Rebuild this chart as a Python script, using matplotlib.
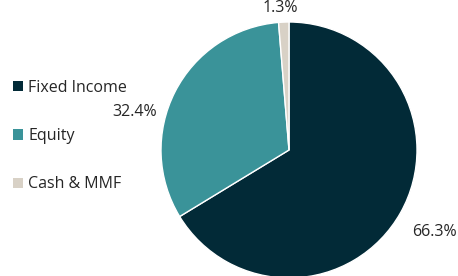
import numpy as np
import matplotlib
matplotlib.use("Agg")
import matplotlib.pyplot as plt
from matplotlib.patches import Patch

# data
categories = ["Fixed Income", "Equity", "Cash & MMF"]
shares = [66.3, 32.4, 1.3]
pctLabels = ["66.3%", "32.4%", "1.3%"]
colors = ["#022a37", "#3a9399", "#d8d1c6"]

plt.rcParams["font.family"] = ["Open Sans", "DejaVu Sans"]
textColor = "#262626"
fs = 11.5

fig = plt.figure(figsize=(4.58, 2.76), dpi=100)
ax = fig.add_axes([0, 0, 1, 1])

wedges, _ = ax.pie(shares, colors=colors, startangle=90, counterclock=False,
                   radius=1.0, wedgeprops=dict(edgecolor="white", linewidth=1.0))

# 1 data unit = 128 px, pie centre at (289, 150) px from top-left
ax.set_xlim(-289 / 128, (458 - 289) / 128)
ax.set_ylim(-126 / 128, 150 / 128)
ax.set_aspect("auto")
ax.axis("off")

# label positions: distance from centre and angle nudge per slice
labelDist = [1.30, 1.24, 1.11]
angleShift = [0, 13, 1]
for w, lab, d, s in zip(wedges, pctLabels, labelDist, angleShift):
    mid = np.deg2rad((w.theta1 + w.theta2) / 2 + s)
    ax.text(d * np.cos(mid), d * np.sin(mid), lab, ha="center", va="center",
            fontsize=fs, color=textColor)

handles = [Patch(facecolor=c, edgecolor="none") for c in colors]
fig.legend(handles, categories, loc="center left", bbox_to_anchor=(0.028, 0.507),
           frameon=False, fontsize=fs, labelcolor=textColor,
           handlelength=0.62, handleheight=0.62, handletextpad=0.35,
           labelspacing=2.03, borderpad=0, borderaxespad=0)

fig.savefig("out.png", dpi=100)
